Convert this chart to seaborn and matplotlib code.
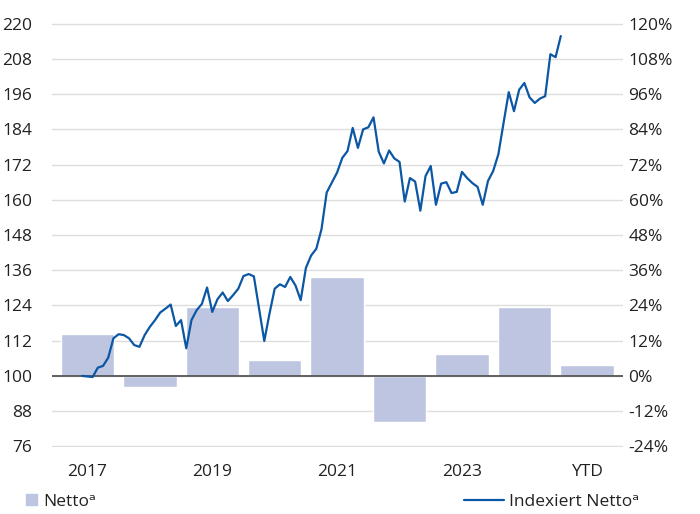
import numpy as np
import pandas as pd
import matplotlib
matplotlib.use("Agg")
import matplotlib.pyplot as plt
from matplotlib.patches import Patch
from matplotlib.lines import Line2D
import seaborn as sns

# yearly net flows (right axis, %)
years = ["2017", "2018", "2019", "2020", "2021", "2022", "2023", "2024", "YTD"]
netto_pct = [14.2, -3.7, 23.4, 5.4, 33.6, -15.6, 7.5, 23.4, 3.7]

# monthly indexed series (left axis), Dec 2016 onwards
index_vals = [100.0, 99.8, 99.6, 102.8, 103.4, 106.2, 112.8, 114.2, 113.9, 112.8,
              110.5, 109.9, 113.9, 116.7, 119.0, 121.6, 122.9, 124.3, 117.0, 119.0,
              109.4, 119.0, 122.4, 124.5, 130.1, 121.8, 126.1, 128.4, 125.5, 127.5,
              129.7, 134.0, 134.7, 133.9, 122.9, 111.9, 121.2, 129.7, 131.2, 130.3,
              133.7, 130.8, 125.8, 136.8, 141.0, 143.3, 150.0, 162.5, 165.9, 169.3,
              174.3, 176.6, 184.5, 177.7, 184.0, 184.7, 188.1, 176.4, 172.4, 176.8,
              174.1, 172.9, 159.4, 167.4, 166.2, 156.3, 168.1, 171.5, 158.3, 165.5,
              166.0, 162.3, 162.7, 169.5, 167.4, 165.7, 164.4, 158.3, 166.4, 169.8,
              175.5, 186.2, 196.7, 190.2, 197.5, 199.8, 194.9, 193.0, 194.5, 195.3,
              209.6, 208.6, 215.8]

tick_pos = [0, 2, 4, 6, 8]
tick_labels = ["2017", "2019", "2021", "2023", "YTD"]

BAR_COL = "#BEC5E1"
LINE_COL = "#0B57A4"
TXT = "#222222"

sns.set_style("white")
plt.rcParams["font.family"] = ["Open Sans", "DejaVu Sans"]

months = pd.date_range("2016-12-01", periods=len(index_vals), freq="MS")
line_df = pd.DataFrame({
    "pos": (months.year - 2017) + (months.month - 1) / 12,
    "idx": index_vals,
})
bar_df = pd.DataFrame({"pos": np.arange(len(years)), "pct": netto_pct})

fig = plt.figure(figsize=(7, 5.14), dpi=100)
ax = fig.add_axes([0.0737, 0.130, 0.8163, 0.825])

# bars on primary axis, percent ticks go to the right
sns.barplot(data=bar_df, x="pos", y="pct", native_scale=True, color=BAR_COL,
            width=0.857, saturation=1, ax=ax, zorder=2)
ax.set_ylim(-24.3, 120.2)
ax.set_yticks(np.arange(-24, 121, 12))
ax.set_yticklabels([f"{v}%" for v in range(-24, 121, 12)])
ax.grid(axis="y", color="#DDDDDD", lw=1, zorder=0)
ax.set_axisbelow(True)
ax.axhline(0, color="#555555", lw=1.3, zorder=3)

ax2 = ax.twinx()
sns.lineplot(data=line_df, x="pos", y="idx", color=LINE_COL, lw=1.6, ax=ax2)
ax2.set_ylim(75.7, 220.2)
ax2.set_yticks(np.arange(76, 221, 12))

# swap sides: index on the left, percent on the right
ax.yaxis.tick_right()
ax2.yaxis.tick_left()

for a in (ax, ax2):
    a.set_xlim(-0.574, 8.58)
    a.set_xlabel("")
    a.set_ylabel("")
    for s in a.spines.values():
        s.set_visible(False)
    a.tick_params(length=0, labelsize=12.5, colors=TXT)
ax.set_xticks(tick_pos)
ax.set_xticklabels(tick_labels)
ax.tick_params(axis="x", pad=12)
ax.tick_params(axis="y", pad=4)
ax2.tick_params(axis="y", pad=14)

leg1 = fig.legend(handles=[Patch(color=BAR_COL, label="Nettoᵃ")],
                  loc="lower left", bbox_to_anchor=(0.015, -0.022), frameon=False,
                  fontsize=12.5, handlelength=0.6, handleheight=0.6, handletextpad=0.4,
                  labelcolor=TXT)
leg2 = fig.legend(handles=[Line2D([], [], color=LINE_COL, lw=1.6, label="Indexiert Nettoᵃ")],
                  loc="lower right", bbox_to_anchor=(0.935, -0.022), frameon=False,
                  fontsize=12.5, handlelength=2.3, handletextpad=0.3, labelcolor=TXT)

fig.savefig("out.png", dpi=100)
